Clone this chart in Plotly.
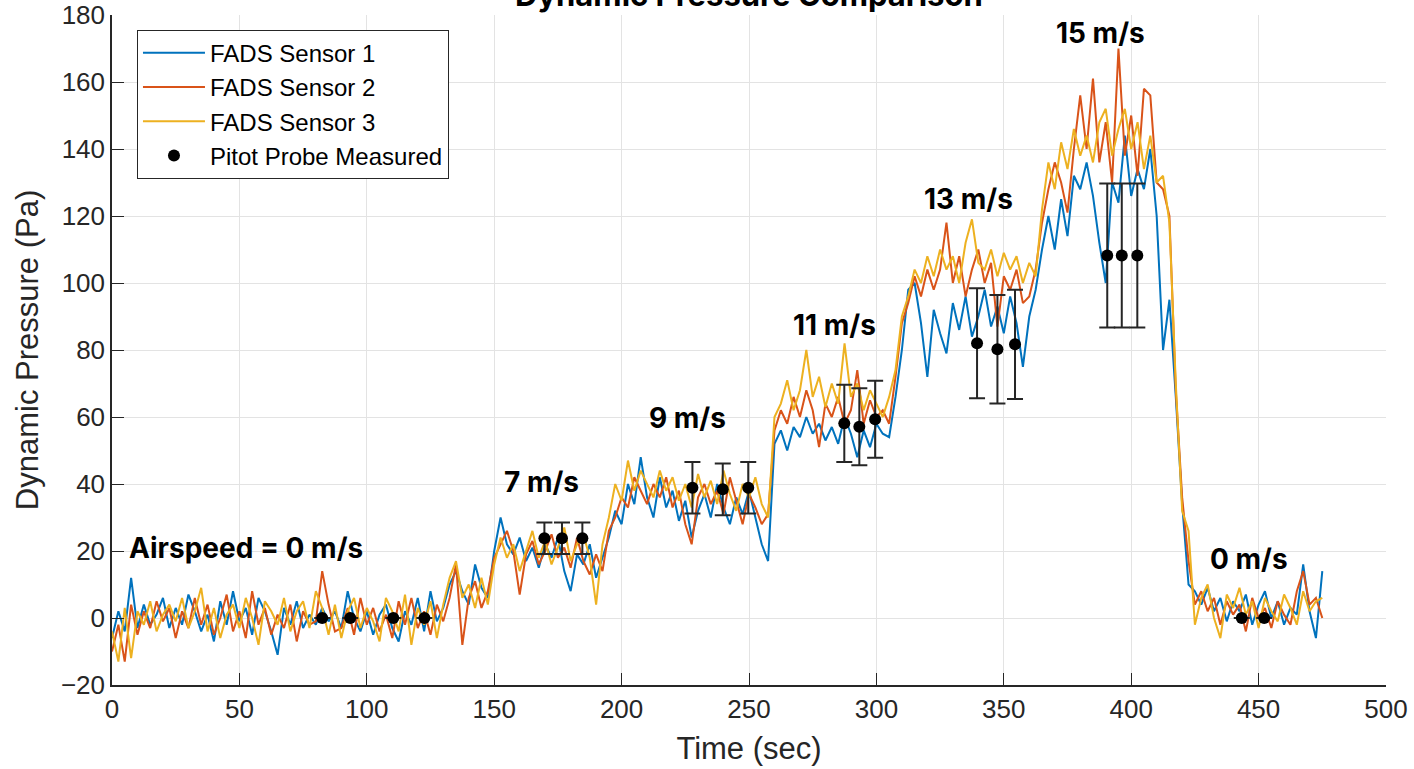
import plotly.graph_objects as go

# sampling grid (seconds)
time = [i * 2.5 for i in range(191)]

sensor1 = [
    -6, 2, -4, 12, -3, 4, -2, 1, 6, -3, 3, -2, 7, 2, -4, 1, -7, 5, -2, 8,
    -1, 3, -5, 6, 2, -4, -11, 3, -2, 5, -3, 1, -2, 3, -1, 2, -3, 8, 0, -4,
    2, -5, 1, 4, -3, -7, 2, -2, 6, -4, 8, -1, 3,
    10, 14, 8, 4, 16, 9, 6,
    20, 30, 22, 19, 24, 17, 21, 15, 22, 18, 24, 14, 8, 19, 16, 22, 12,
    18, 24, 32, 28, 40,
    34, 48, 36, 30, 42, 33, 38, 29, 35, 24, 32, 37, 30, 40, 33, 28, 36, 31, 38, 30, 22, 17,
    52, 56, 50,
    57, 54, 60, 55, 58, 53, 57, 52, 60, 55, 48, 56, 51, 58,
    55, 54, 66, 80, 98,
    100, 88, 72, 92, 85, 79, 94, 86, 96, 84, 90, 98, 87, 93, 85, 96, 88, 75, 90, 98,
    110, 120, 110, 125,
    114, 132, 128, 136, 126, 112, 100, 130, 124, 144, 126, 134, 128, 140, 120, 80,
    95, 66, 34, 10, 8,
    4, 9, 2, 6, -1, 5, 2, 7, -2, 4, 8, 0, 5, -2, 3, 1, 16, 2, -6, 14,
]

sensor2 = [
    -10, -2, -13, 4, -5, 2, -3, 5, -1, 3, -6, 2, -3, 6, -2, 4, -5, 0, 7, -4,
    2, -6, 8, -2, 3, -5, 1, -3, 4, -7, 2, -2, -1, 14, 4, -4, -3, 3, -5, 6,
    -2, 3, -4, 1, -6, 5, -2, 6, -3, 2, -5, 4, -1,
    6, 16, -8, 6, 11, 3, 8,
    18, 22, 26, 20, 7, 19, 23, 16, 20, 25, 18, 21, 15, 24, 17, 13, 19,
    14, 26, 30, 36, 33,
    42, 38, 34, 40, 36, 42, 33, 38, 28, 22, 36, 40, 34, 38, 31, 42, 35, 28, 37, 33, 28, 31,
    56, 62, 58,
    66, 60, 68, 62, 51, 64, 60, 66, 58, 62, 74, 58, 65, 60,
    62, 58, 72, 88, 94,
    102, 96, 104, 98, 104, 118, 100, 108, 96, 104, 110, 100, 106, 87, 102, 98, 104, 94, 96, 104,
    118, 128, 136, 130,
    121, 140, 156, 140, 161, 136, 148, 130, 170, 138, 150, 132, 158, 156, 130, 128,
    120, 68, 36, 17, 4,
    8, 2, 6, -2, 5, 1, 4, -4, 6, 0, 3, -3, 5, 1, -2, 8, 14, 4, 6, 0,
]

sensor3 = [
    -4, -13, 3, -12, 2, -2, 5, -4, 1, 4, -1, 6, -3, 2, 9, -4, 3, -6, 1, 4,
    -3, 6, 0, -8, 5, 2, -2, 6, -4, 2, 5, -3, 8, 3, -5, 4, -6, 2, 6, -3,
    3, -1, -7, 6, 2, -4, 7, -8, 3, -2, 5, -6, 4,
    12, 17, 6, 10, 3, 12, 4,
    16, 24, 18, 22, 14, 20, 26, 18, 23, 16, 21, 27, 17, 22, 25, 18, 4,
    22, 30, 40, 35, 47,
    38, 44, 40, 36, 44, 38, 42, 35, 40, 33, 43, 36, 41, 34, 44, 37, 32, 40, 36, 42, 34, 30,
    60, 64, 71,
    62, 68, 80, 66, 72, 63, 70, 64, 82, 66, 70, 62, 68, 64,
    60, 66, 74, 90, 96,
    104, 100, 108, 102, 110, 104, 108, 100, 112, 119, 106, 104, 110, 102, 109, 104, 108, 100, 106, 102,
    122, 136, 128, 142,
    134, 146, 138, 144, 136, 148, 152, 138, 146, 152, 140, 148, 134, 144, 130, 132,
    118, 70, 32, 26, -2,
    6, 10, 0, -6, 7, 3, 9, 1, 5, -3, 6, 2, -1, 7, 3, -2, 8, 2, 5, 6,
]

pitot_time = [82.5, 93.5, 110.4, 122.6, 169.7, 176.6, 184.6, 227.8, 239.7, 249.7,
              287.4, 293.3, 299.5, 339.5, 347.5, 354.4, 390.6, 396.3, 402.4, 443.4, 452.2]
pitot_q = [0, 0, 0, 0, 23.8, 23.8, 23.8, 38.9, 38.4, 38.9,
           58.1, 57.1, 59.3, 82.0, 80.2, 81.7, 108.2, 108.2, 108.2, 0, 0]
pitot_err = [0, 0, 0, 0, 4.7, 4.7, 4.7, 7.7, 7.7, 7.7,
             11.5, 11.5, 11.5, 16.4, 16.2, 16.3, 21.5, 21.5, 21.5, 0, 0]

labels = ["Airspeed = 0 m/s", "7 m/s", "9 m/s", "11 m/s", "13 m/s", "15 m/s", "0 m/s"]
label_x = [52.6, 168.4, 225.7, 283.4, 336.0, 387.8, 446.2]
label_y = [20.9, 40.6, 59.7, 87.5, 125.0, 174.6, 17.6]

x_ticks = list(range(0, 501, 50))
y_ticks = list(range(-20, 181, 20))

BLUE = "#0072BD"
ORANGE = "#D95319"
YELLOW = "#EDB120"
AX = "#262626"
SANS = "Liberation Sans, Arial, Helvetica, sans-serif"

fig = go.Figure()
for name, vals, col in [("FADS Sensor 1", sensor1, BLUE),
                        ("FADS Sensor 2", sensor2, ORANGE),
                        ("FADS Sensor 3", sensor3, YELLOW)]:
    fig.add_trace(go.Scatter(x=time, y=vals, mode="lines", name=name,
                             line=dict(color=col, width=2)))

fig.add_trace(go.Scatter(
    x=pitot_time, y=pitot_q, mode="markers", name="Pitot Probe Measured",
    marker=dict(color="black", size=12),
    error_y=dict(type="data", array=pitot_err, visible=True, color=AX,
                 thickness=2, width=8),
))

for txt, lx, ly in zip(labels, label_x, label_y):
    fig.add_annotation(x=lx, y=ly, text="<b>" + txt + "</b>", showarrow=False,
                       font=dict(family="Inter", size=28, color="black"),
                       xanchor="center", yanchor="middle")

fig.add_annotation(xref="paper", yref="paper", x=0.5, y=1.03,
                   text="<b>Dynamic Pressure Comparison</b>", showarrow=False,
                   font=dict(family="Inter", size=31, color="black"),
                   xanchor="center", yanchor="middle")

axis_common = dict(showgrid=True, gridcolor="#e3e3e3", gridwidth=1,
                   showline=True, linecolor=AX, linewidth=1.5,
                   ticks="inside", ticklen=12, tickcolor=AX, tickwidth=1,
                   zeroline=False, mirror=False,
                   tickfont=dict(family=SANS, size=26, color=AX))

fig.update_layout(
    width=1414, height=769,
    margin=dict(l=112, r=28, t=15, b=84, autoexpand=False),
    paper_bgcolor="white", plot_bgcolor="white",
    showlegend=True,
    legend=dict(x=0.0196, y=0.978, xanchor="left", yanchor="top",
                bgcolor="white", bordercolor=AX, borderwidth=1,
                font=dict(family=SANS, size=24, color="black"),
                itemwidth=62, tracegroupgap=0),
    xaxis=dict(range=[0, 500], tickvals=x_ticks,
               title=dict(text="Time (sec)", standoff=14,
                          font=dict(family=SANS, size=31, color=AX)),
               **axis_common),
    yaxis=dict(range=[-20, 180], tickvals=y_ticks,
               title=dict(text="Dynamic Pressure (Pa)", standoff=13,
                          font=dict(family=SANS, size=31, color=AX)),
               **axis_common),
)

fig.write_html("out.html")
